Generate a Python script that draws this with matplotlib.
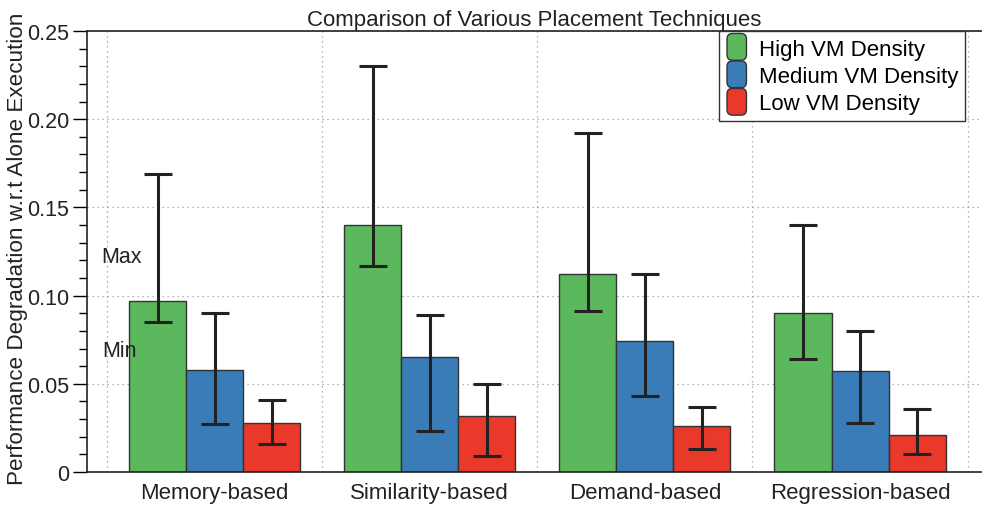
import numpy as np
import matplotlib
matplotlib.use("Agg")
import matplotlib.pyplot as plt
from matplotlib.legend_handler import HandlerBase
from matplotlib.patches import FancyBboxPatch, Rectangle
from matplotlib.ticker import MultipleLocator

plt.rcParams['font.family'] = ['Liberation Sans', 'DejaVu Sans']

techniques = ["Memory-based", "Similarity-based", "Demand-based", "Regression-based"]
densities = ["High VM Density", "Medium VM Density", "Low VM Density"]

# average degradation per technique, high / medium / low density
high_avg = [0.097, 0.140, 0.112, 0.090]
med_avg = [0.058, 0.065, 0.074, 0.057]
low_avg = [0.028, 0.032, 0.026, 0.021]

high_min = [0.085, 0.117, 0.091, 0.064]
high_max = [0.169, 0.230, 0.192, 0.140]
med_min = [0.027, 0.023, 0.043, 0.028]
med_max = [0.090, 0.089, 0.112, 0.080]
low_min = [0.016, 0.009, 0.013, 0.010]
low_max = [0.041, 0.050, 0.037, 0.036]

colors = ['#5cb85c', '#3a7cb8', '#e8392a']


class RoundBox(HandlerBase):
    def create_artists(self, legend, orig_handle, xdescent, ydescent,
                       width, height, fontsize, trans):
        p = FancyBboxPatch((-xdescent + 1, -ydescent - 3), width - 2, height + 6,
                           boxstyle='round,pad=0,rounding_size=4',
                           facecolor=orig_handle.get_facecolor(),
                           edgecolor='#333333', linewidth=1.0, transform=trans)
        return [p]


fig = plt.figure(figsize=(9.82, 5.06), dpi=100)
ax = fig.add_axes([0.0886, 0.0652, 0.9114, 0.8716])

x = np.arange(1, len(techniques) + 1)
w = 0.265

avgs = [high_avg, med_avg, low_avg]
mins = [high_min, med_min, low_min]
maxs = [high_max, med_max, low_max]

handles = []
for i in range(3):
    a = np.array(avgs[i])
    err = [a - np.array(mins[i]), np.array(maxs[i]) - a]
    b = ax.bar(x + (i - 1) * w, a, w, color=colors[i], edgecolor='#333333',
               linewidth=1.0, label=densities[i], zorder=2)
    ax.errorbar(x + (i - 1) * w, a, yerr=err, fmt='none', ecolor='#222222',
                elinewidth=2.2, capsize=10, capthick=2.2, zorder=3)
    handles.append(b.patches[0])

ax.set_xlim(0.407, 4.567)
ax.set_ylim(0, 0.25)
ax.set_xticks(x)
ax.set_xticklabels(techniques, fontsize=16)
ax.tick_params(axis='x', length=0, pad=7, colors='#222222')

yt = [0, 0.05, 0.10, 0.15, 0.20, 0.25]
ax.set_yticks(yt)
ax.set_yticklabels(['0', '0.05', '0.10', '0.15', '0.20', '0.25'], fontsize=15.5)
ax.yaxis.set_minor_locator(MultipleLocator(0.01))
ax.tick_params(axis='y', which='major', direction='out', length=10, width=1, pad=3,
               labelcolor='#222222')
ax.tick_params(axis='y', which='minor', direction='out', length=6, width=1)

# dotted grid: horizontal on major ticks, vertical between groups
ax.grid(axis='y', which='major', linestyle=(0, (1, 3)), color='#999999', linewidth=0.9, zorder=0)
for gx in np.arange(0.5, 5.0, 1.0):
    ax.axvline(gx, linestyle=(0, (1, 3)), color='#999999', linewidth=0.9, zorder=0)
ax.set_axisbelow(True)

ax.spines['right'].set_visible(False)
for s in ['left', 'bottom', 'top']:
    ax.spines[s].set_color('#222222')
    ax.spines[s].set_linewidth(1.2)

ax.text(0.474, 0.122, "Max", fontsize=15.5, va='center', ha='left', color='#222222')
ax.text(0.476, 0.0686, "Min", fontsize=15.5, va='center', ha='left', color='#222222')

ax.set_title("Comparison of Various Placement Techniques", fontsize=16, pad=4, color='#222222')
ax.set_ylabel("Performance Degradation w.r.t Alone Execution", fontsize=16.2, color='#222222')
ax.yaxis.set_label_coords(-0.066, 0.508)

leg = ax.legend(handles, densities, loc='upper right', bbox_to_anchor=(0.981, 1.0),
                borderaxespad=0, fancybox=False, fontsize=16, handlelength=1.0,
                handleheight=0.9, handletextpad=0.5, labelspacing=0.25,
                borderpad=0.3, framealpha=1,
                handler_map={Rectangle: RoundBox()})
leg.get_frame().set_edgecolor('#333333')
leg.get_frame().set_linewidth(1.0)

fig.savefig("out.png", dpi=100)
